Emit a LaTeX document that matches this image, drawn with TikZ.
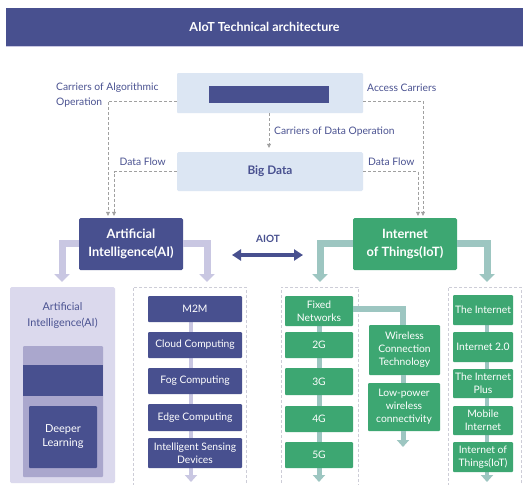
\documentclass[tikz,border=0pt]{standalone}
\usepackage{fontspec}
\setmainfont{Lato}
\usetikzlibrary{arrows.meta}

\definecolor{navy}{RGB}{72,80,143}
\definecolor{paleblue}{RGB}{220,230,243}
\definecolor{labelblue}{RGB}{74,82,145}
\definecolor{leaf}{RGB}{61,167,114}
\definecolor{lilac}{RGB}{201,199,226}
\definecolor{lilacpale}{RGB}{219,217,237}
\definecolor{lilacmid}{RGB}{170,167,205}
\definecolor{sage}{RGB}{157,198,193}
\definecolor{dashgrey}{RGB}{160,160,160}
\definecolor{panelgrey}{RGB}{205,205,215}

\tikzset{
  txt/.style={font=\fontsize{10.3}{13}\selectfont},
  navybox/.style={fill=navy, text=white, rounded corners=1pt, align=center,
    inner sep=1pt, txt},
  greenbox/.style={fill=leaf, text=white, rounded corners=1pt, align=center,
    inner sep=1pt, txt},
  bigbox/.style={rounded corners=1.5pt, align=center, inner sep=1pt,
    font=\bfseries\fontsize{12.8}{17.5}\selectfont},
  lightbox/.style={fill=paleblue, rounded corners=1pt},
  lbl/.style={text=labelblue, inner sep=0pt, font=\fontsize{10.3}{15}\selectfont},
  flow/.style={draw=dashgrey, dashed, dash pattern=on 3pt off 2pt, line width=0.6pt,
    -{Triangle[width=4pt,length=4pt]}},
  panel/.style={draw=panelgrey, dashed, dash pattern=on 3pt off 2pt, line width=0.6pt},
  lilacarrow/.style={draw=lilac, line width=7pt,
    -{Triangle[width=15pt,length=8pt]}},
  sagearrow/.style={draw=sage, line width=7pt,
    -{Triangle[width=15pt,length=8pt]}},
  lilacspine/.style={draw=lilac, line width=4pt,
    -{Triangle[width=12pt,length=7pt]}},
  sagespine/.style={draw=sage, line width=5pt,
    -{Triangle[width=12pt,length=7pt]}},
}

\begin{document}
\begin{tikzpicture}[x=1pt, y=-1pt]
\useasboundingbox (0,0) rectangle (523,485);
\fill[white] (0,0) rectangle (523,485);

% title bar
\node[fill=navy, text=white, minimum width=517pt, minimum height=38pt,
  inner sep=0pt, font=\bfseries\fontsize{12.5}{15}\selectfont] (title) at (264.5,27)
  {AIoT Technical architecture};
\draw[lilac, line width=1pt] (6,46.5) -- (523,46.5);

% carriers and big data
\node[lightbox, minimum width=186pt, minimum height=40pt] (carrier) at (270,93) {};
\node[fill=navy, minimum width=120pt, minimum height=17pt, inner sep=0pt] (bar) at (269,94.5) {};
\node[lightbox, text=navy, rounded corners=1.5pt, font=\bfseries\fontsize{11.8}{14}\selectfont,
  minimum width=186pt, minimum height=39pt] (bigdata) at (270,171.5) {Big Data};

% AI and IoT
\node[bigbox, fill=navy, text=white, minimum width=104pt, minimum height=52pt] (ai) at (131,244)
  {Artificial\\Intelligence(AI)};
\node[bigbox, fill=leaf, text=white, minimum width=104pt, minimum height=52pt] (iot) at (405,244)
  {Internet\\of Things(IoT)};

% labels
\node[lbl, anchor=north west, align=left] (lalg) at (56,83) {Carriers of Algorithmic\\Operation};
\node[lbl, anchor=west] (lacc) at (367,88) {Access Carriers};
\node[lbl, anchor=west] (ldata) at (274,132) {Carriers of Data Operation};
\node[lbl, anchor=east] (lfl) at (166,162) {Data Flow};
\node[lbl, anchor=west] (lfr) at (368,162) {Data Flow};

% dashed data flows
\draw[flow] ([yshift=-8pt]carrier.west) -| ([xshift=-23pt,yshift=2pt]ai.north);
\draw[flow] (bigdata.west) -| ([xshift=-17pt,yshift=2pt]ai.north);
\draw[flow] ([yshift=-8pt]carrier.east) -| ([xshift=18pt,yshift=2pt]iot.north);
\draw[flow] (bigdata.east) -| ([xshift=13pt,yshift=2pt]iot.north);
\draw[flow] (carrier.south -| 269,0) -- ([yshift=4pt]bigdata.north -| 269,0);

% AIOT double arrow
\node[text=navy, font=\bfseries\fontsize{10}{12}\selectfont, inner sep=0pt] (aiot) at (268,239) {AIOT};
\coordinate (aiotL) at (232,255);
\coordinate (aiotR) at (303,255);
\draw[navy, line width=3.5pt, {Triangle[width=11pt,length=9pt]}-{Triangle[width=11pt,length=9pt]}] (aiotL) -- (aiotR);

% branch arrows
\coordinate (aiL) at (62,282);
\coordinate (aiR) at (207,282);
\coordinate (iotL) at (320,282);
\coordinate (iotR) at (487,282);
\draw[lilacarrow] ([yshift=1pt]ai.west) -| (aiL);
\draw[lilacarrow] ([yshift=1pt]ai.east) -| (aiR);
\draw[sagearrow] ([yshift=1pt]iot.west) -| (iotL);
\draw[sagearrow] ([yshift=1pt]iot.east) -| (iotR);

% left panel
\node[fill=lilacpale, rounded corners=1.5pt, minimum width=105pt, minimum height=196pt] (aipanel) at (62.5,385) {};
\node[text=labelblue, align=center, font=\fontsize{10.8}{16}\selectfont] (aititle) at (62.5,316)
  {Artificial\\Intelligence(AI)};
\node[fill=lilacmid, rounded corners=1pt, minimum width=80pt, minimum height=131pt] (aiinner) at (63,411.5) {};
\node[fill=navy, minimum width=80pt, minimum height=31pt, inner sep=0pt] (aiband) at (63,380.5) {};
\node[navybox, minimum width=68pt, minimum height=62pt, font=\fontsize{11}{14}\selectfont] (deep) at (63,437) {Deeper\\Learning};

% computing panel
\node[panel, minimum width=113pt, minimum height=198pt] (cpanel) at (189.5,386) {};
\coordinate (cend) at (191,482);
\draw[lilacspine] (191,309) -- (cend);
\node[navybox, minimum width=94pt, minimum height=26pt] (m2m) at (195,309) {M2M};
\node[navybox, minimum width=94pt, minimum height=26pt] (cloud) at (195,345) {Cloud Computing};
\node[navybox, minimum width=94pt, minimum height=26pt] (fog) at (195,381) {Fog Computing};
\node[navybox, minimum width=94pt, minimum height=27pt] (edge) at (195,417.5) {Edge Computing};
\node[navybox, minimum width=94pt, minimum height=30pt] (isd) at (195,453) {Intelligent Sensing\\Devices};

% network panel
\node[panel, minimum width=77pt, minimum height=198pt] (npanel) at (319.5,386) {};
\coordinate (nend) at (319,482);
\draw[sagespine] (319,311) -- (nend);
\node[greenbox, minimum width=68pt, minimum height=30pt] (fixed) at (319,311) {Fixed\\Networks};
\node[greenbox, minimum width=68pt, minimum height=26pt] (g2) at (319,345) {2G};
\node[greenbox, minimum width=68pt, minimum height=27pt] (g3) at (319,381.5) {3G};
\node[greenbox, minimum width=68pt, minimum height=26pt] (g4) at (319,419) {4G};
\node[greenbox, minimum width=68pt, minimum height=26pt] (g5) at (319,455) {5G};

% wireless branch
\node[greenbox, minimum width=71pt, minimum height=50pt] (wire) at (404.5,350) {Wireless\\Connection\\Technology};
\node[greenbox, minimum width=72pt, minimum height=48pt] (lowp) at (404,407) {Low-power\\wireless\\connectivity};
\coordinate (wend) at (403,447);
\draw[draw=sage, line width=6pt] ([yshift=2pt]fixed.east) -| (wire.north -| 403,0);
\draw[draw=sage, line width=5pt] (wire.south -| 403,0) -- (lowp.north -| 403,0);
\draw[sagespine] (lowp.south -| 403,0) -- (wend);

% internet panel
\node[panel, minimum width=73pt, minimum height=198pt] (ipanel) at (484.5,386) {};
\coordinate (iend) at (487,482);
\draw[sagespine, line width=4pt] (487,310) -- (iend);
\node[greenbox, minimum width=60pt, minimum height=30pt] (inet) at (483,310) {The Internet};
\node[greenbox, minimum width=60pt, minimum height=30pt] (inet2) at (483,347) {Internet 2.0};
\node[greenbox, minimum width=60pt, minimum height=29pt] (iplus) at (483,383.5) {The Internet\\Plus};
\node[greenbox, minimum width=60pt, minimum height=29pt] (mob) at (483,420.5) {Mobile\\Internet};
\node[greenbox, minimum width=60pt, minimum height=30pt] (iiot) at (483,457) {Internet of\\Things(IoT)};
\end{tikzpicture}
\end{document}
